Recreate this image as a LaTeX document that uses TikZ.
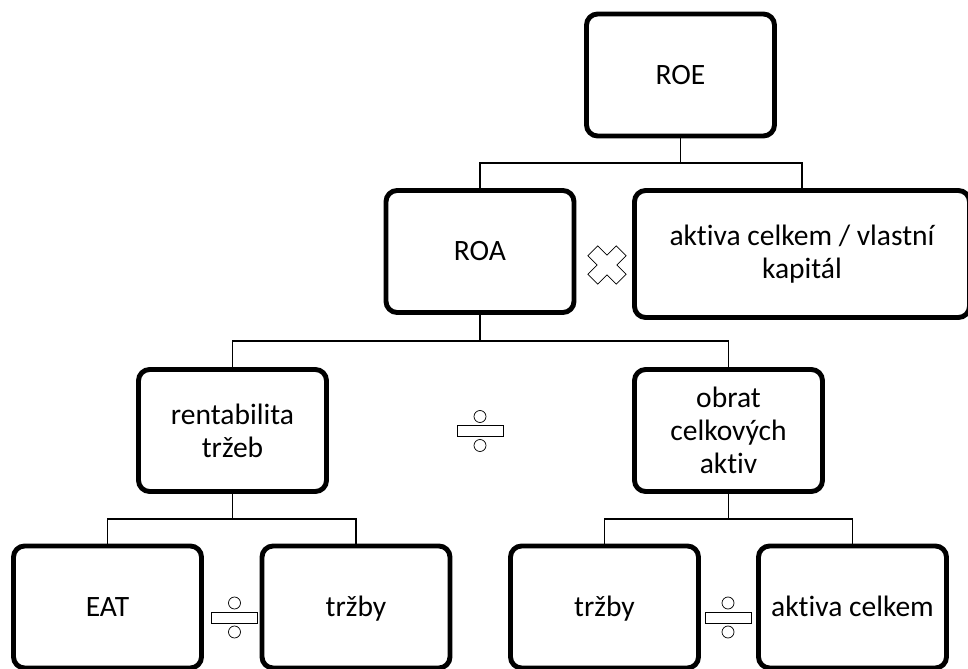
\documentclass[tikz,border=0pt]{standalone}
\usepackage{fontspec}
\setmainfont{Carlito}[Ligatures=CommonOff]

\tikzset{
    box/.style={draw, line width=3.5pt, rounded corners=8pt, minimum width=4.7cm,
        minimum height=3.05cm, align=center, inner sep=2pt,
        font=\fontsize{21pt}{23.5pt}\selectfont},
    oneline/.style={text height=13.5pt, text depth=0pt},
    link/.style={line width=1pt},
    sym/.style={line width=0.5pt, fill=white}
}

% divide sign: bar with two small circles
\newcommand{\divsign}[1]{%
    \begin{scope}[shift={#1}]
        \draw[sym] (-23,-5.5) rectangle (23,5.5);
        \draw[sym] (0,-14.5) circle[radius=6];
        \draw[sym] (0,14.5) circle[radius=6];
    \end{scope}}

\begin{document}
\begin{tikzpicture}[x=0.025cm, y=-0.025cm]
    \useasboundingbox (0,0) rectangle (968,669);
    \clip (0,0) rectangle (968,669);

    % Top level
    \node[box, oneline] (roe) at (680.5,75) {ROE};

    % Second level
    \node[box, oneline] (roa) at (480,251.5) {ROA};
    \node[box, minimum width=8.375cm, minimum height=3.175cm] (kap) at (802,254) {aktiva celkem / vlastní\\kapitál};

    % Third level
    \node[box] (rent) at (232.5,430.5) {rentabilita\\tržeb};
    \node[box] (obrat) at (728.5,430.5) {obrat\\celkových\\aktiv};

    % Bottom level
    \node[box, oneline] (eat) at (107.5,607) {EAT};
    \node[box, oneline] (trzbyA) at (356,607) {tržby};
    \node[box, oneline] (trzbyB) at (604.5,607) {tržby};
    \node[box, oneline] (aktiva) at (852.5,607) {aktiva celkem};

    % Junctions
    \coordinate (j1) at (680.5,163);
    \coordinate (j2) at (480,341);
    \coordinate (j3) at (232.5,519);
    \coordinate (j4) at (728.5,519);

    % Draw connectors
    \draw[link] (roe) -- (j1);
    \draw[link] (roa.north) |- (j1) -| (kap.north);
    \draw[link] (roa) -- (j2);
    \draw[link] (rent.north) |- (j2) -| (obrat.north);
    \draw[link] (rent) -- (j3);
    \draw[link] (eat.north) |- (j3) -| (trzbyA.north);
    \draw[link] (obrat) -- (j4);
    \draw[link] (trzbyB.north) |- (j4) -| (aktiva.north);

    % Operators
    \draw[sym, shift={(607,265)}, rotate=45] (7,7) -- (7,20) -- (-7,20) -- (-7,7)
        -- (-20,7) -- (-20,-7) -- (-7,-7) -- (-7,-20) -- (7,-20) -- (7,-7)
        -- (20,-7) -- (20,7) -- cycle;
    \divsign{(480,431)}
    \divsign{(234.5,617.5)}
    \divsign{(728,617.5)}
\end{tikzpicture}
\end{document}
